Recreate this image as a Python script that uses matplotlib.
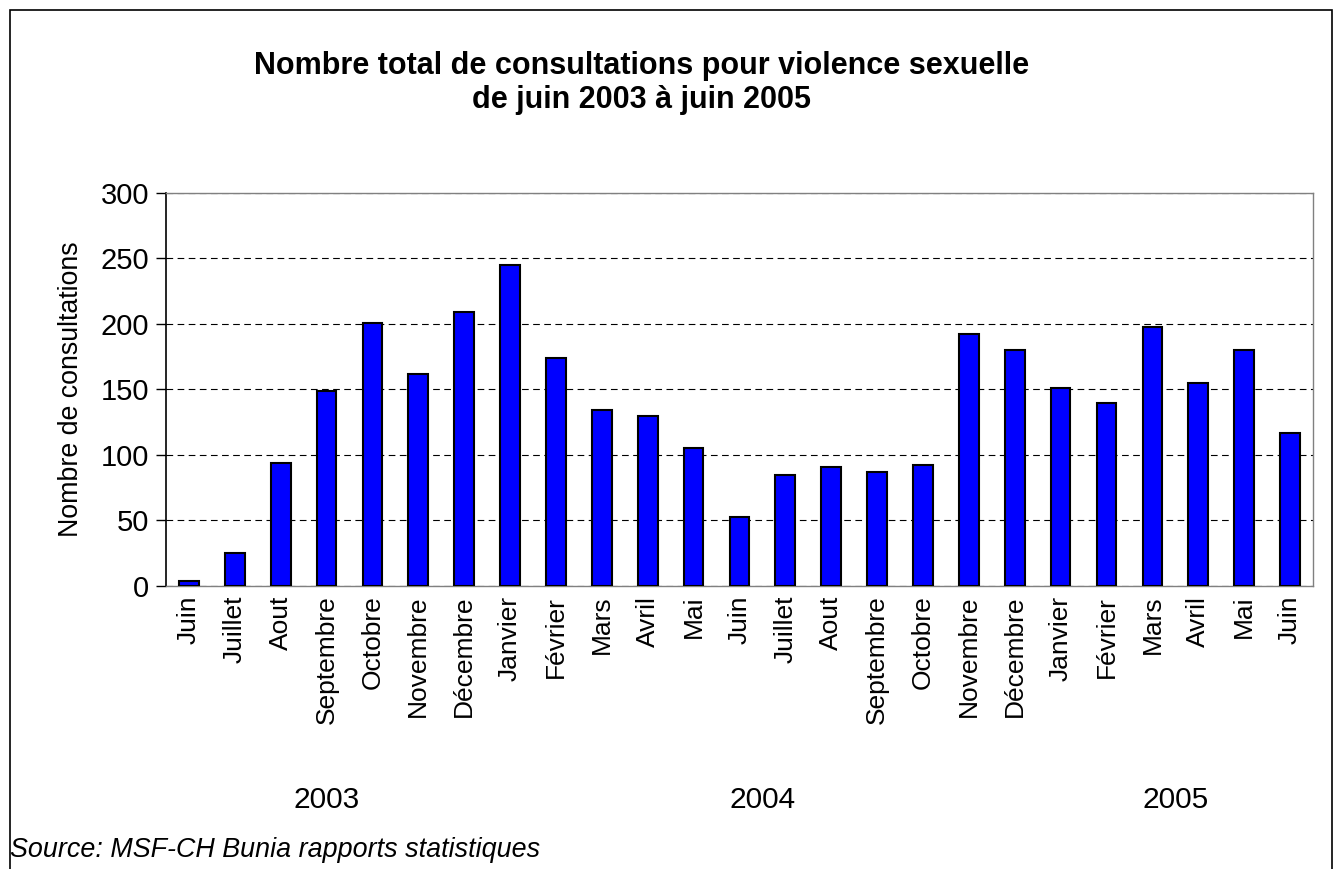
import matplotlib
matplotlib.use("Agg")
import matplotlib.pyplot as plt
from matplotlib.patches import Rectangle

plt.rcParams['font.family'] = ['Liberation Sans', 'DejaVu Sans']

months = ['Juin', 'Juillet', 'Aout', 'Septembre', 'Octobre', 'Novembre', 'Décembre',
          'Janvier', 'Février', 'Mars', 'Avril', 'Mai', 'Juin', 'Juillet', 'Aout',
          'Septembre', 'Octobre', 'Novembre', 'Décembre',
          'Janvier', 'Février', 'Mars', 'Avril', 'Mai', 'Juin']
consultations = [4, 25, 94, 149, 201, 162, 209,
                 245, 174, 134, 130, 105, 53, 85, 91, 87, 92, 192, 180,
                 151, 140, 198, 155, 180, 117]
years = ['2003', '2004', '2005']
year_first = [0, 7, 19]
year_last = [6, 18, 24]
yticks = [0, 50, 100, 150, 200, 250, 300]

fig = plt.figure(figsize=(13.35, 8.69), dpi=100)
ax = fig.add_axes([0.1243, 0.3257, 0.8592, 0.4522])

x = list(range(len(months)))
ax.bar(x, consultations, width=0.43, color='#0000ff', edgecolor='black',
       linewidth=1.5, zorder=3)

ax.set_xlim(-0.5, len(months) - 0.5)
ax.set_ylim(0, 300)
ax.set_yticks(yticks)
ax.yaxis.grid(True, linestyle=(0, (6, 4)), color='black', linewidth=0.8, zorder=0)
ax.tick_params(axis='y', labelsize=21, length=7, width=1, direction='out', pad=5)
ax.set_xticks(x)
ax.set_xticklabels(months, rotation=90, fontsize=19, va='top')
ax.tick_params(axis='x', length=0, pad=7)

for side in ['top', 'right', 'bottom']:
    ax.spines[side].set_color('#808080')
    ax.spines[side].set_linewidth(1)
ax.spines['left'].set_linewidth(1.2)

ax.set_ylabel('Nombre de consultations', fontsize=19.3, labelpad=12)

# year labels under the month names
for name, a, b in zip(years, year_first, year_last):
    xc = (a + b) / 2
    xf = fig.transFigure.inverted().transform(ax.transData.transform((xc, 0)))[0]
    fig.text(xf, 1 - 800 / 869, name, fontsize=21.5, ha='center', va='center')

fig.text(642 / 1335, 1 - 83 / 869,
         'Nombre total de consultations pour violence sexuelle\nde juin 2003 à juin 2005',
         fontsize=22, fontweight='bold', ha='center', va='center', linespacing=1.2)

fig.text(10 / 1335, 1 - 850 / 869, 'Source: MSF-CH Bunia rapports statistiques',
         fontsize=19.4, style='italic', ha='left', va='center')

# chart frame
fig.patches.append(Rectangle((10 / 1335, -0.1), 1322 / 1335, 1.1 - 10 / 869,
                             transform=fig.transFigure, fill=False,
                             edgecolor='black', linewidth=1.2))

fig.savefig('out.png', dpi=100)
